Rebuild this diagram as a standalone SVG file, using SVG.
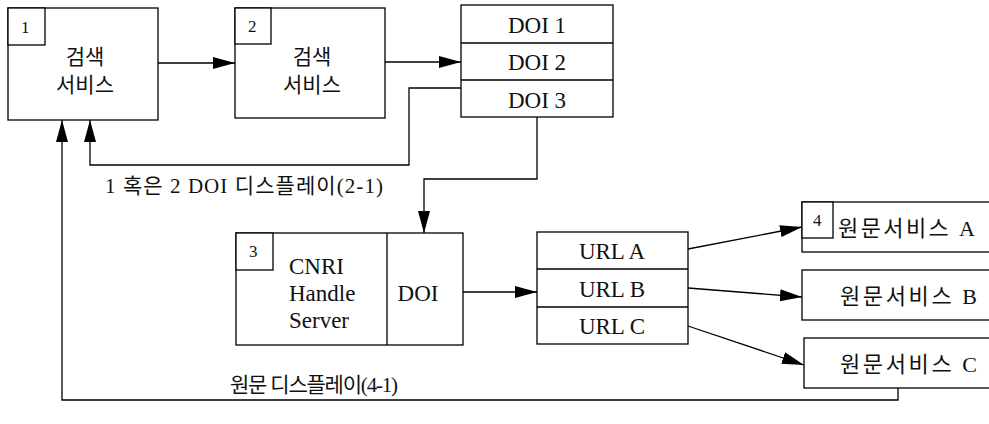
<svg xmlns="http://www.w3.org/2000/svg" width="989" height="424" viewBox="0 0 989 424">
<style>
.b{fill:#fff;stroke:#000;stroke-width:1.3}
.l{fill:none;stroke:#000;stroke-width:1.3}
text{fill:#111}
.lat{font-size:23px}
.svc{font-size:22px}
</style>
<defs>
<marker id="a" markerWidth="22" markerHeight="12" refX="22" refY="6" orient="auto" markerUnits="userSpaceOnUse">
<path d="M0,0 L22,6 L0,12 Z" fill="#000"/>
</marker>
</defs>
<rect width="989" height="424" fill="#fff"/>
<g font-family="Liberation Serif, Times New Roman, DejaVu Serif, Noto Sans CJK KR, serif" font-size="21">
<g id="n1">
<rect class="b" x="8" y="8" width="150" height="112"/>
<rect class="b" x="8" y="8" width="37" height="37"/>
<text x="21" y="33" font-size="17">1</text>
<text x="85" y="64" text-anchor="middle">검색</text>
<text x="85" y="92" text-anchor="middle">서비스</text>
</g>
<g id="n2">
<rect class="b" x="235" y="8" width="150" height="110"/>
<rect class="b" x="235" y="8" width="36" height="36"/>
<text x="248" y="32" font-size="17">2</text>
<text x="312" y="64" text-anchor="middle">검색</text>
<text x="312" y="92" text-anchor="middle">서비스</text>
</g>
<g id="doi">
<rect class="b" x="461" y="5" width="152" height="112"/>
<line class="l" x1="461" y1="43" x2="613" y2="43"/>
<line class="l" x1="461" y1="80" x2="613" y2="80"/>
<text class="lat" x="537" y="33" text-anchor="middle">DOI 1</text>
<text class="lat" x="537" y="70" text-anchor="middle">DOI 2</text>
<text class="lat" x="537" y="108" text-anchor="middle">DOI 3</text>
</g>
<g id="n3">
<rect class="b" x="236" y="233" width="227" height="112"/>
<line class="l" x1="387" y1="233" x2="387" y2="345"/>
<rect class="b" x="236" y="233" width="37" height="37"/>
<text x="249" y="257" font-size="17">3</text>
<text class="lat" x="289" y="274">CNRI</text>
<text class="lat" x="289" y="301">Handle</text>
<text class="lat" x="289" y="328">Server</text>
<text class="lat" x="418" y="301" text-anchor="middle">DOI</text>
</g>
<g id="url">
<rect class="b" x="537" y="232" width="151" height="112"/>
<line class="l" x1="537" y1="269" x2="688" y2="269"/>
<line class="l" x1="537" y1="307" x2="688" y2="307"/>
<text class="lat" x="612" y="259" text-anchor="middle">URL A</text>
<text class="lat" x="612" y="297" text-anchor="middle">URL B</text>
<text class="lat" x="612" y="334" text-anchor="middle">URL C</text>
</g>
<g id="sa">
<rect class="b" x="802" y="202" width="190" height="50"/>
<rect class="b" x="802" y="202" width="31" height="36"/>
<text x="813" y="226" font-size="17">4</text>
<text class="svc" x="838" y="236" textLength="137" lengthAdjust="spacing">원문서비스 A</text>
</g>
<g id="sb">
<rect class="b" x="802" y="270" width="190" height="50"/>
<text class="svc" x="840" y="304" textLength="137" lengthAdjust="spacing">원문서비스 B</text>
</g>
<g id="sc">
<rect class="b" x="804" y="338" width="188" height="50"/>
<text class="svc" x="840" y="372" textLength="137" lengthAdjust="spacing">원문서비스 C</text>
</g>
<g id="connectors">
<line class="l" x1="158" y1="63" x2="235" y2="63" marker-end="url(#a)"/>
<line class="l" x1="385" y1="62" x2="461" y2="62" marker-end="url(#a)"/>
<polyline class="l" points="461,88 409,88 409,165 90,165 90,120" marker-end="url(#a)"/>
<polyline class="l" points="537,117 537,179 424,179 424,233" marker-end="url(#a)"/>
<line class="l" x1="463" y1="292" x2="537" y2="292" marker-end="url(#a)"/>
<line class="l" x1="688" y1="249" x2="802" y2="227" marker-end="url(#a)"/>
<line class="l" x1="688" y1="288" x2="802" y2="297" marker-end="url(#a)"/>
<line class="l" x1="688" y1="326" x2="804" y2="365" marker-end="url(#a)"/>
<polyline class="l" points="898,388 898,400 62,400 62,120" marker-end="url(#a)"/>
</g>
<text x="105" y="193" textLength="278" lengthAdjust="spacing">1 혹은 2 DOI 디스플레이(2-1)</text>
<text x="230" y="392" textLength="168" lengthAdjust="spacing">원문 디스플레이(4-1)</text>
</g>
</svg>
